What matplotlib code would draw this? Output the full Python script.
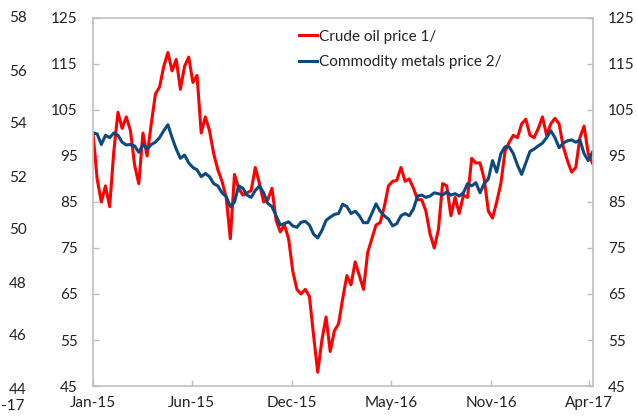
import matplotlib
matplotlib.use("Agg")
import matplotlib.pyplot as plt
import pandas as pd

# weekly readings, Jan-15 .. Apr-17 (index, start = 100)
dates = pd.date_range("2015-01-01", periods=121, freq="7D")

oil = [100, 90, 85, 88.5, 84, 96, 104.5, 101, 103.5, 100.5,
       93, 89, 100, 95, 102, 108.5, 110, 114.5, 117.5, 113.5,
       116, 109.5, 114.5, 116.5, 111, 112.5, 100, 103.5, 100.5, 95.5,
       92, 89.5, 86, 77, 91, 88, 86.5, 87, 87.5, 92.5,
       89, 85, 85.5, 88, 81, 78.5, 80, 77, 70, 66,
       65, 66, 64.5, 56, 48, 55, 60, 52.5, 57, 58.5,
       64, 69, 67, 72, 69, 66, 74, 77, 80, 80.5,
       84, 88.5, 89.5, 89.7, 92.5, 89.5, 90, 88, 85.5, 85.5,
       83, 78, 75, 79, 89, 88.5, 82, 86, 82.5, 86.5,
       86, 94.5, 93.5, 93.5, 90, 83, 81.5, 85, 89, 96,
       98, 99.5, 99, 102, 103, 99.5, 99, 101, 103.5, 99.5,
       102, 103.2, 102, 97, 94, 91.5, 92.5, 99, 101.5, 95.5,
       93.5]

metals = [100, 99.8, 97.5, 99.5, 99, 100, 99.5, 98, 97.4, 97.5,
          97.2, 95.8, 97.5, 96.5, 97.5, 98, 99, 100.5, 101.8, 99,
          96.5, 94.5, 95.2, 93.5, 92.5, 92, 90.5, 91.2, 90.5, 89,
          88.5, 87, 86.2, 84, 85, 88.5, 88, 86.5, 86, 87.5,
          88.5, 87, 84.7, 84, 82, 80, 80.3, 80.7, 79.8, 79.5,
          80.6, 80.8, 80, 78, 77.2, 78.8, 81, 81.7, 82.3, 82.5,
          84.5, 84, 82.5, 83, 82, 80.5, 80.5, 82.5, 84.6, 83,
          82, 81.3, 79.8, 80.3, 82, 82.5, 82, 83.5, 86.3, 86.5,
          86, 86.3, 87, 86.8, 86.5, 87.2, 86.5, 86.8, 86.3, 87,
          89, 88.5, 89.2, 87, 89, 90, 94, 91.5, 95.5, 97,
          97, 95.5, 93, 91, 93.5, 96, 96.5, 97.2, 97.8, 99,
          100.5, 99, 96.8, 97.8, 98.3, 98.5, 98, 98.5, 95.5, 94,
          95.8]

tick_dates = pd.to_datetime(["2015-01-01", "2015-06-16", "2015-12-01",
                             "2016-05-16", "2016-11-01", "2017-04-15"])
tick_labels = ["Jan-15", "Jun-15", "Dec-15", "May-16", "Nov-16", "Apr-17"]
y_ticks = [45, 55, 65, 75, 85, 95, 105, 115, 125]
stray_ticks = [44, 46, 48, 50, 52, 54, 56, 58]

plt.rcParams["font.family"] = ["Lato", "DejaVu Sans"]
txt = "#222222"
grey = "#BFBFBF"

fig = plt.figure(figsize=(6.37, 4.16), dpi=100)
ax = fig.add_axes([93 / 637, 1 - 386 / 416, 500 / 637, 368 / 416])

ax.plot(dates, oil, color="#FF0000", lw=2.2, label="Crude oil price 1/")
ax.plot(dates, metals, color="#0B4A80", lw=2.2, label="Commodity metals price 2/")

ax.set_ylim(45, 125)
ax.set_xlim(pd.Timestamp("2015-01-01"), pd.Timestamp("2017-04-21"))
ax.set_yticks(y_ticks)
ax.set_xticks(tick_dates)
ax.set_xticklabels(tick_labels)

for s in ax.spines.values():
    s.set_color(grey)
    s.set_linewidth(1.2)
ax.tick_params(axis="y", direction="in", length=4, color=grey, width=1,
               left=True, right=True, labelleft=True, labelright=True,
               labelsize=11, labelcolor=txt, pad=11)
ax.tick_params(axis="x", direction="in", length=4, color=grey, width=1,
               labelsize=11, labelcolor=txt, pad=7)

leg = ax.legend(loc="upper left", bbox_to_anchor=(0.4, 0.985), frameon=False,
                fontsize=11, handlelength=1.2, handletextpad=0.1,
                labelspacing=0.75, borderaxespad=0)
for t in leg.get_texts():
    t.set_color(txt)

# leftover axis of the neighbouring chart at the left edge
ax2 = fig.add_axes([32 / 637, 1 - 388 / 416, 10 / 637, 371 / 416])
ax2.set_ylim(44, 58)
ax2.set_yticks(stray_ticks)
ax2.set_xticks([])
for s in ax2.spines.values():
    s.set_visible(False)
ax2.patch.set_alpha(0)
ax2.tick_params(axis="y", length=0, labelsize=11, labelcolor=txt, pad=4)
fig.text(1 / 637, 1 - 406 / 416, "-17", ha="left", va="center",
         fontsize=11, color=txt)

fig.savefig("out.png", dpi=100)
